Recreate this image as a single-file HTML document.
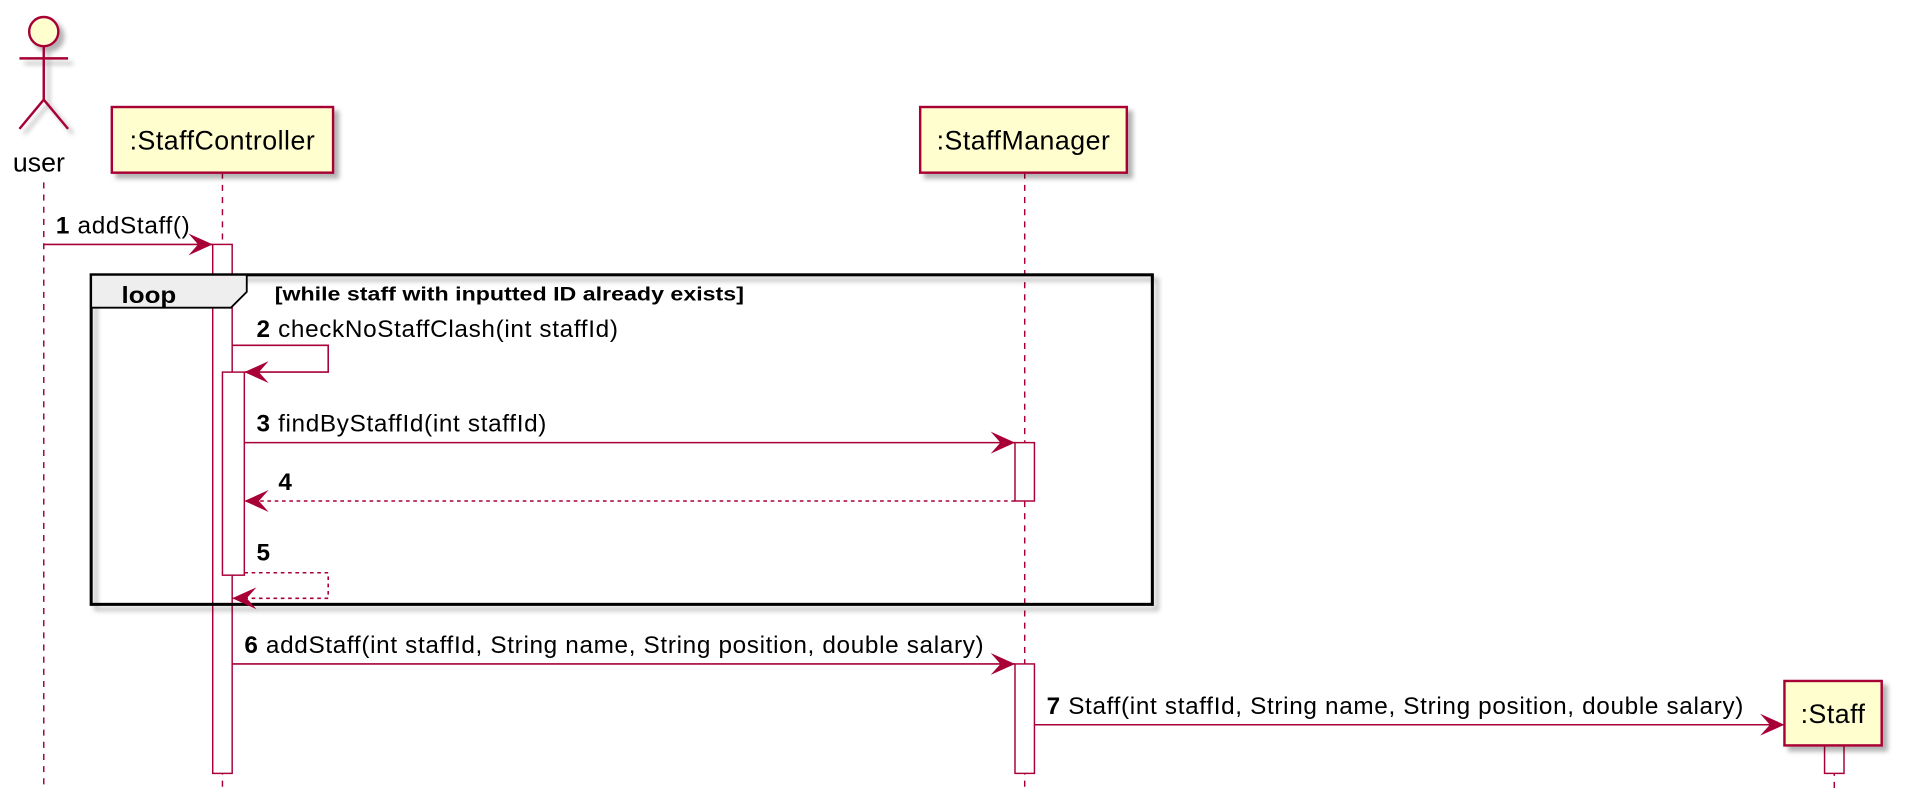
<!DOCTYPE html>
<html><head><meta charset="utf-8"><style>
html,body{margin:0;padding:0;background:#fff;}
svg{display:block;}
text{font-family:"Liberation Sans",sans-serif;}
</style></head><body>
<svg width="1906" height="805" viewBox="0 0 1568 662" preserveAspectRatio="none" id="d">
<defs>
<filter id="sh" x="-20%" y="-20%" width="150%" height="150%"><feDropShadow dx="4" dy="4" stdDeviation="2" flood-color="#000" flood-opacity="0.3"/></filter>
</defs>
<g id="lifelines"></g>
<g id="acts"></g>
<g id="frame">
<rect x="75" y="226" width="873" height="271" fill="none" stroke="#000" stroke-width="2.5" filter="url(#sh)"/>
<path d="M75,226 H203 V240 L190,253 H75 Z" fill="#EEEEEE" stroke="#000" stroke-width="1.5"/>
<text x="100" y="249" font-size="19" font-weight="bold" textLength="45" lengthAdjust="spacingAndGlyphs">loop</text>
<text x="226" y="247" font-size="16" font-weight="bold" textLength="386" lengthAdjust="spacingAndGlyphs">[while staff with inputted ID already exists]</text>
</g>
<g id="msgs"></g>
<g id="parts"></g>
</svg>
<script>
const participants=["user",":StaffController",":StaffManager",":Staff"];
const lifelineX=[36,183,843,1509];
const msgNums=["1","2","3","4","5","6","7"];
const msgLabels=["addStaff()","checkNoStaffClash(int staffId)","findByStaffId(int staffId)","","","addStaff(int staffId, String name, String position, double salary)","Staff(int staffId, String name, String position, double salary)"];
const msgY=[201,284,364,412,471,546,596];
const NS="http://www.w3.org/2000/svg";
const C="#A80036";
function mk(tag,attrs,parent){const e=document.createElementNS(NS,tag);for(const k in attrs)e.setAttribute(k,attrs[k]);parent.appendChild(e);return e;}
const ll=document.getElementById('lifelines'),acts=document.getElementById('acts'),msgs=document.getElementById('msgs'),parts=document.getElementById('parts');
lifelineX.forEach((x,i)=>{
 const y0=i==3?613:(i==0?150:142);
 const l=mk('line',{x1:x,y1:y0,x2:x,y2:650,stroke:C,'stroke-width':1.2,'stroke-dasharray':'5,5'},ll);
 
 
});
const boxes=[null,[92,88,182,54],[757,88,170,54],[1468,560,80,53]];
boxes.forEach((b,i)=>{
 if(!b)return;
 const g=mk('g',{},parts);
 
 
 mk('rect',{x:b[0],y:b[1],width:b[2],height:b[3],fill:'#FEFECE',stroke:C,'stroke-width':2,filter:'url(#sh)'},g);
 const t=mk('text',{x:b[0]+b[2]/2,y:b[1]+b[3]/2+8,'font-size':22,'letter-spacing':0.4,'text-anchor':'middle',fill:'#000'},g);
 t.textContent=participants[i];
});
{const g=mk('g',{filter:'url(#sh)'},parts);
 
 
 mk('circle',{cx:36,cy:26,r:12,fill:'#FEFECE',stroke:C,'stroke-width':2},g);
 mk('path',{d:'M36,38 V82 M16,48 H56 M36,82 L16,106 M36,82 L56,106',fill:'none',stroke:C,'stroke-width':2},g);
 const t=mk('text',{x:32,y:141,'font-size':22,'text-anchor':'middle'},parts);
 t.textContent='user';
 
 }
const actBoxes=[[175,201,16,435],[183,306,18,167],[835,364,16,48],[835,546,16,90],[1501,613,16,23]];
actBoxes.forEach((a,i)=>{
 const r=mk('rect',{x:a[0],y:a[1],width:a[2],height:a[3],fill:'#fff',stroke:C,'stroke-width':1.2},acts);
 
 
});
const msgGeom=[[36,175,0,0],[191,201,1,0],[201,835,0,0],[835,201,0,1],[201,191,1,1],[191,835,0,0],[851,1468,0,0]];
function arrowHead(g,x,y,dir){
 mk('path',{d:`M${x},${y} L${x-dir*20},${y-9} L${x-dir*12},${y} L${x-dir*20},${y+9} Z`,fill:C},g);
}
msgY.forEach((y,i)=>{
 const [fx,tx,self,dash]=msgGeom[i];
 const g=mk('g',{},msgs);
 
 
 const st={stroke:C,'stroke-width':1.3,fill:'none'};
 if(dash)st['stroke-dasharray']='3,3';
 let lx;
 if(self){
  const y2=y+(i==1?22:21);
  mk('path',Object.assign({d:`M${i==1?191:201},${y} H270 V${y2} H${tx}`},st),g);
  arrowHead(g,tx,y2,-1);
  lx=211;
 }else{
  mk('line',Object.assign({x1:fx,y1:y,x2:tx,y2:y},st),g);
  arrowHead(g,tx,y,tx>fx?1:-1);
  lx=Math.min(fx,tx)+(i==3?28:10);
 }
 const t=mk('text',{x:lx,y:y-(self?(i==1?7:10):9),'font-size':20,'letter-spacing':0.55,fill:'#000'},g);
 const b=mk('tspan',{'font-weight':'bold'},t);b.textContent=msgNums[i];
 if(msgLabels[i]){const s=mk('tspan',{},t);s.textContent=' '+msgLabels[i];}
});
</script>
</body></html>
